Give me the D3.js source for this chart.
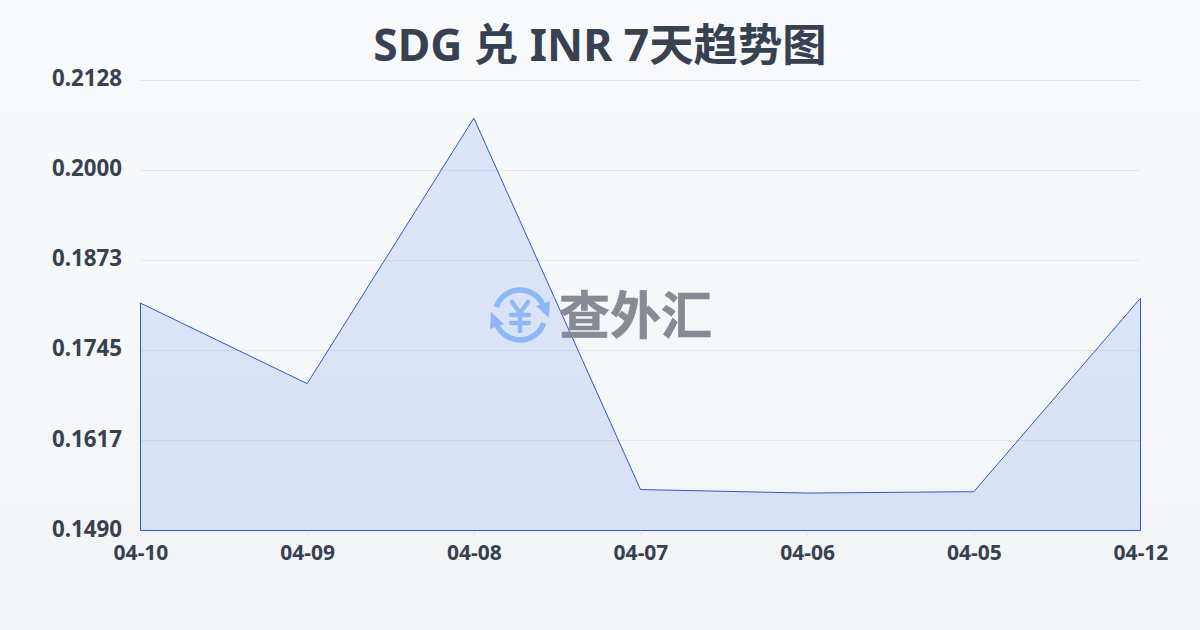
<!DOCTYPE html>
<html><head><meta charset="utf-8">
<script src="https://cdn.jsdelivr.net/npm/d3@7"></script>
<style>html,body{margin:0;padding:0;width:1200px;height:630px;overflow:hidden}
svg{display:block}
text{font-family:"Noto Sans","Noto Sans CJK SC",sans-serif}
</style></head><body><svg id="c" width="1200" height="630"></svg>
<script>
const categories=["04-10","04-09","04-08","04-07","04-06","04-05","04-12"];
const seriesValues=[0.18120,0.1698,0.2074,0.1548,0.1543,0.1545,0.1819];
const tickValues=[0.1490,0.1617,0.1745,0.1873,0.2000,0.2128];
const titleText="SDG 兑 INR 7天趋势图";
const watermarkText="查外汇";

const svg=d3.select("#c");
const defs=svg.append("defs");
const bg=defs.append("linearGradient").attr("id","bg").attr("x1",0).attr("y1",0).attr("x2",0).attr("y2",1);
bg.append("stop").attr("offset",0).attr("stop-color","#f8fafc");
bg.append("stop").attr("offset",1).attr("stop-color","#f3f4f6");
svg.append("rect").attr("width",1200).attr("height",630).attr("fill","url(#bg)");

const x=d3.scalePoint().domain(categories).range([140.5,1140.5]);
const y=d3.scaleLinear().domain([0.1490,0.2128]).range([530.5,80]);

svg.append("text").attr("x",600).attr("y",60.5).attr("text-anchor","middle")
  .attr("font-size",44.4).attr("font-weight",700).attr("fill","#374151").text(titleText);

const yAxis=d3.axisLeft(y).tickValues(tickValues).tickSize(0).tickFormat(d3.format(".4f"));
const yg=svg.append("g").attr("transform","translate(140,0)").call(yAxis);
yg.select(".domain").remove();
yg.selectAll("text").attr("x",-18).attr("dy",null).attr("dominant-baseline",null)
  .attr("transform",null).attr("y",5.5).attr("font-size",22.3).attr("font-weight",700)
  .attr("fill","#374151");

svg.append("g").selectAll("line").data(tickValues.slice(1)).join("line")
  .attr("x1",140).attr("x2",1140).attr("y1",d=>Math.floor(y(d))+0.5).attr("y2",d=>Math.floor(y(d))+0.5)
  .attr("stroke","#e5e7eb").attr("stroke-width",1);

const xAxis=d3.axisBottom(x).tickSize(6).tickPadding(7);
const xg=svg.append("g").attr("transform","translate(0,530.5)").call(xAxis);
xg.select(".domain").remove();
xg.selectAll("line").attr("stroke","#e5e7eb");
xg.selectAll("text").attr("y",null).attr("dy",null).attr("y",29.5).attr("font-size",21).attr("font-weight",700)
  .attr("fill","#374151");

const area=d3.area().x((d,i)=>x(categories[i])).y0(y(0.1490)).y1(d=>y(d));
svg.append("path").datum(seriesValues).attr("d",area).attr("fill","#2563eb").attr("fill-opacity",0.13);
svg.append("path").datum(seriesValues).attr("d",area).attr("fill","none").attr("stroke","#2a5bc7").attr("stroke-width",1);

const wm=svg.append("g");
const ic=wm.append("g").attr("transform","translate(520,315)").attr("fill","none").attr("stroke","#8fb7f7").attr("stroke-linecap","round");
const arc=d3.arc().innerRadius(25).outerRadius(25);
ic.append("path").attr("d",arc({startAngle:-1.25,endAngle:1.15})).attr("stroke-width",5.5);
ic.append("path").attr("d",arc({startAngle:1.9,endAngle:4.3})).attr("stroke-width",5.5);
ic.append("path").attr("d",d3.line()([[16,-9],[30,-14],[29,3]])).attr("fill","#8fb7f7").attr("stroke","none");
ic.append("path").attr("d",d3.line()([[-16,9],[-30,14],[-29,-3]])).attr("fill","#8fb7f7").attr("stroke","none");
ic.append("path").attr("d","M-8,-13L0,-2L8,-13M-9,0H9M-9,8H9M0,-2V16").attr("stroke-width",4.5);
wm.append("text").attr("x",559).attr("y",334).attr("font-size",51).attr("font-weight",700)
  .attr("fill","#868b94").attr("stroke","#868b94").attr("stroke-width",0.6).text(watermarkText);
</script></body></html>
